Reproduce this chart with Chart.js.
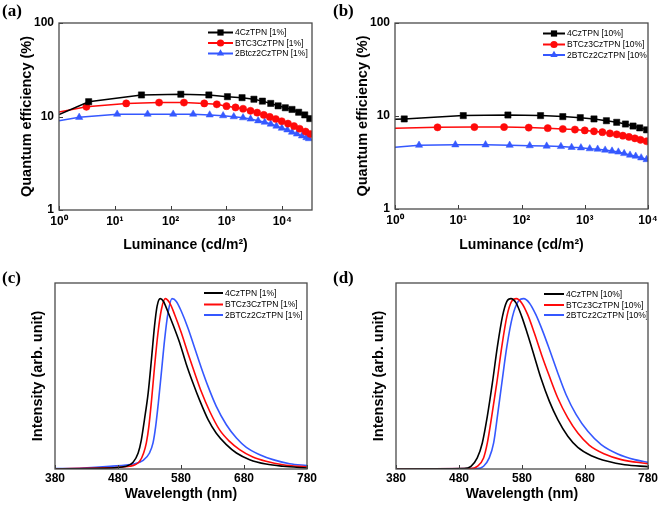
<!DOCTYPE html>
<html><head><meta charset="utf-8">
<script src="https://cdn.jsdelivr.net/npm/chart.js@4.4.0/dist/chart.umd.min.js"></script>
<style>
html,body{margin:0;padding:0;background:#fff;}
#wrap{position:relative;width:662px;height:506px;overflow:hidden;background:#fff;}
.pnl{position:absolute;width:331px;height:253px;}
.lbl{position:absolute;font-family:"Liberation Serif","DejaVu Serif",serif;font-weight:bold;font-size:17px;line-height:17px;color:#000;}
</style></head><body>
<div id="wrap">
<div class="pnl" style="left:0;top:0"><canvas id="ca" width="331" height="253"></canvas></div>
<div class="pnl" style="left:331px;top:0"><canvas id="cb" width="331" height="253"></canvas></div>
<div class="pnl" style="left:0;top:253px"><canvas id="cc" width="331" height="253"></canvas></div>
<div class="pnl" style="left:331px;top:253px"><canvas id="cd" width="331" height="253"></canvas></div>
<div class="lbl" style="left:2px;top:2px">(a)</div>
<div class="lbl" style="left:333px;top:2px">(b)</div>
<div class="lbl" style="left:2px;top:269px">(c)</div>
<div class="lbl" style="left:333px;top:269px">(d)</div>
</div>
<script>
// ---------- tick labels ----------
const lumTickValues = [1, 10, 100, 1000, 10000];
const lumTickLabels = ['10⁰', '10¹', '10²', '10³', '10⁴'];
const eqeTickValues = [1, 10, 100];
const eqeTickLabels = ['1', '10', '100'];
const wlTickValues = [380, 480, 580, 680, 780];
const wlTickLabels = ['380', '480', '580', '680', '780'];

// ---------- panel (a): EQE vs luminance, 1% ----------
const legendA = ['4CzTPN [1%]', 'BTC3CzTPN [1%]', '2Btcz2CzTPN [1%]'];
const lumA_4Cz = [1, 3.4, 30, 152, 483, 1040, 1900, 3100, 4400, 6200, 8400, 11300, 14900, 19600, 25200, 31000];
const eqeA_4Cz = [10.5, 14.4, 17.0, 17.3, 17.0, 16.3, 15.9, 15.3, 14.6, 13.8, 13.0, 12.4, 11.9, 11.1, 10.4, 9.5];
const lumA_BTCz = [1, 3.1, 16, 62, 173, 400, 670, 1000, 1450, 1980, 2690, 3540, 4650, 5950, 7630, 9750, 12600, 16200, 20400, 26100, 31800];
const eqeA_BTCz = [11.2, 12.7, 13.8, 14.1, 14.1, 13.8, 13.5, 12.9, 12.5, 12.1, 11.5, 11.0, 10.4, 9.9, 9.4, 8.9, 8.4, 7.9, 7.4, 6.9, 6.5];
const lumA_2BTCz = [1, 2.3, 11, 38.6, 111, 253, 500, 870, 1350, 1980, 2700, 3690, 4840, 6200, 7850, 9800, 12300, 14900, 18300, 22500, 27000, 30000];
const eqeA_2BTCz = [9.0, 9.8, 10.6, 10.6, 10.6, 10.6, 10.4, 10.2, 9.95, 9.7, 9.4, 9.0, 8.7, 8.3, 7.9, 7.5, 7.2, 6.8, 6.5, 6.2, 5.95, 5.8];

// ---------- panel (b): EQE vs luminance, 10% ----------
const legendB = ['4CzTPN [10%]', 'BTCz3CzTPN [10%]', '2BTCz2CzTPN [10%]'];
const lumB_4Cz = [1, 1.4, 12, 61, 200, 450, 850, 1400, 2200, 3200, 4400, 5800, 7400, 9500];
const eqeB_4Cz = [9.2, 9.3, 10.1, 10.25, 10.1, 9.85, 9.6, 9.3, 8.9, 8.55, 8.2, 7.8, 7.45, 7.1];
const lumB_BTCz = [1, 4.7, 18, 53, 130, 260, 450, 700, 1000, 1400, 1900, 2500, 3200, 4000, 5000, 6200, 7600, 9500];
const eqeB_BTCz = [7.4, 7.55, 7.6, 7.6, 7.5, 7.4, 7.25, 7.15, 7.0, 6.85, 6.7, 6.5, 6.35, 6.15, 5.95, 5.75, 5.55, 5.35];
const lumB_2BTCz = [1, 2.4, 9, 27, 65, 135, 250, 420, 620, 870, 1200, 1600, 2100, 2700, 3400, 4200, 5200, 6400, 7800, 9500];
const eqeB_2BTCz = [4.6, 4.85, 4.9, 4.9, 4.85, 4.8, 4.75, 4.7, 4.6, 4.55, 4.45, 4.4, 4.3, 4.2, 4.1, 3.95, 3.8, 3.7, 3.55, 3.4];

// ---------- panel (c): EL spectra, 1% ----------
const legendC = ['4CzTPN [1%]', 'BTCz3CzTPN [1%]', '2BTCz2CzTPN [1%]'];
const wlC_4Cz = [380, 451, 493, 504, 512, 517, 522, 528, 533, 538, 542, 547, 552, 559, 567, 578, 588, 599, 610, 623, 636, 652, 668, 689, 715, 742, 780];
const intC_4Cz = [0, 0.004, 0.016, 0.04, 0.094, 0.17, 0.29, 0.45, 0.64, 0.84, 0.955, 1.0, 0.985, 0.925, 0.85, 0.74, 0.62, 0.505, 0.40, 0.29, 0.21, 0.143, 0.094, 0.055, 0.029, 0.016, 0.006];
const wlC_BTCz = [380, 451, 498.5, 514.4, 520.7, 525, 529, 533.4, 538, 543.5, 548.8, 555, 562, 570, 580.5, 591, 601.7, 612, 625.5, 641, 657, 673, 694, 715, 742, 780];
const intC_BTCz = [0, 0.006, 0.016, 0.045, 0.094, 0.153, 0.25, 0.41, 0.60, 0.80, 0.935, 1.0, 0.975, 0.906, 0.80, 0.68, 0.564, 0.456, 0.339, 0.231, 0.162, 0.114, 0.070, 0.045, 0.025, 0.012];
const wlC_2BTCz = [380, 424, 467, 504, 520, 530, 535.6, 539.8, 544, 548.8, 554, 559.4, 565.7, 572.6, 580.5, 591, 601.7, 612.3, 622.9, 636, 652, 668, 683.7, 705, 726, 752.5, 780];
const intC_2BTCz = [0.002, 0.006, 0.016, 0.029, 0.051, 0.094, 0.153, 0.25, 0.387, 0.564, 0.76, 0.916, 1.0, 0.984, 0.926, 0.828, 0.71, 0.593, 0.485, 0.368, 0.26, 0.182, 0.127, 0.084, 0.055, 0.031, 0.02];

// ---------- panel (d): EL spectra, 10% ----------
const legendD = ['4CzTPN [10%]', 'BTCz3CzTPN [10%]', '2BTCz2CzTPN [10%]'];
const wlD_4Cz = [380, 488, 499, 509, 517, 525, 533, 541, 549, 556, 562.5, 570.5, 579.5, 589, 599.6, 610, 623.5, 636.8, 652.7, 668.6, 690, 716, 743, 780];
const intD_4Cz = [0, 0.002, 0.016, 0.065, 0.153, 0.31, 0.505, 0.72, 0.896, 0.984, 1.0, 0.975, 0.896, 0.789, 0.661, 0.534, 0.397, 0.29, 0.192, 0.127, 0.078, 0.045, 0.025, 0.014];
const wlD_BTCz = [380, 499, 509, 519, 525, 532, 540, 548, 556, 563.5, 571, 579.5, 589, 599.6, 611, 623.5, 636.8, 652.7, 668.6, 687, 711, 737.5, 780];
const intD_BTCz = [0, 0.002, 0.016, 0.065, 0.153, 0.31, 0.505, 0.72, 0.896, 0.984, 1.0, 0.975, 0.906, 0.798, 0.671, 0.544, 0.417, 0.30, 0.211, 0.139, 0.088, 0.055, 0.031];
const wlD_2BTCz = [380, 509, 519, 528, 535, 541, 548, 556, 565, 574, 582.6, 591.7, 602, 613, 624.6, 636.8, 650, 666, 684.5, 705.7, 732, 758.8, 780];
const intD_2BTCz = [0, 0.002, 0.016, 0.065, 0.153, 0.31, 0.505, 0.72, 0.896, 0.984, 1.0, 0.975, 0.906, 0.808, 0.691, 0.564, 0.436, 0.319, 0.221, 0.143, 0.088, 0.055, 0.039];

// ---------- styling ----------
const BLACK = '#000000', RED = '#ff0a0a', BLUE = '#3558ff';
const FONT = '"Liberation Sans", Arial, Helvetica, sans-serif';

function pts(xs, ys) { return xs.map((x, i) => ({ x: x, y: ys[i] })); }

function drawMarker(ctx, style, x, y, r, color) {
  ctx.fillStyle = color;
  ctx.beginPath();
  if (style === 'rect') {
    const s = r * Math.SQRT1_2;
    ctx.rect(x - s, y - s, 2 * s, 2 * s);
  } else if (style === 'circle') {
    ctx.arc(x, y, r, 0, Math.PI * 2);
  } else if (style === 'triangle') {
    let a = 0;
    ctx.moveTo(x + Math.sin(a) * r, y - Math.cos(a) * r);
    a += 2 * Math.PI / 3;
    ctx.lineTo(x + Math.sin(a) * r, y - Math.cos(a) * r);
    a += 2 * Math.PI / 3;
    ctx.lineTo(x + Math.sin(a) * r, y - Math.cos(a) * r);
    ctx.closePath();
  }
  ctx.fill();
}

const framePlugin = {
  id: 'frame',
  afterDatasetsDraw(chart, args, opts) {
    const ctx = chart.ctx, a = chart.chartArea;
    ctx.save();
    // inward tick marks
    ctx.strokeStyle = '#3a3a3a';
    ctx.lineWidth = 1;
    ctx.beginPath();
    const xs = chart.scales.x;
    xs.ticks.forEach(t => {
      const px = Math.round(xs.getPixelForValue(t.value)) + 0.5;
      ctx.moveTo(px, a.bottom); ctx.lineTo(px, a.bottom - 4);
    });
    if (opts.yTicks) {
      const ys = chart.scales.y;
      ys.ticks.forEach(t => {
        const py = Math.round(ys.getPixelForValue(t.value)) + 0.5;
        ctx.moveTo(a.left, py); ctx.lineTo(a.left + 4, py);
      });
    }
    ctx.stroke();
    // frame
    ctx.strokeStyle = '#4a4a4a';
    ctx.lineWidth = 1.3;
    ctx.strokeRect(a.left, a.top, a.right - a.left, a.bottom - a.top);
    // legend inside plot
    ctx.beginPath();
    ctx.rect(a.left, a.top, a.right - a.left - 1, a.bottom - a.top);
    ctx.clip();
    const lg = opts.legend;
    chart.data.datasets.forEach((ds, i) => {
      const y = a.top + lg.rows[i];
      const x0 = a.left + lg.x0, x1 = a.left + lg.x1;
      ctx.strokeStyle = ds.borderColor;
      ctx.lineWidth = 2;
      ctx.beginPath();
      ctx.moveTo(x0, y); ctx.lineTo(x1, y);
      ctx.stroke();
      if (lg.markers) drawMarker(ctx, ds.pointStyle, (x0 + x1) / 2, y, lg.r[i], ds.borderColor);
      ctx.fillStyle = '#000';
      ctx.font = '8.5px ' + FONT;
      ctx.textBaseline = 'middle';
      ctx.textAlign = 'left';
      ctx.fillText(ds.label, a.left + lg.tx, y + 0.5);
    });
    ctx.restore();
  }
};

function fixedTicks(values) {
  return function (scale) { scale.ticks = values.map(v => ({ value: v })); };
}

function makeEqeChart(id, cfg) {
  const mk = (label, xs, ys, color, style, r) => ({
    label: label, data: pts(xs, ys), borderColor: color, backgroundColor: color,
    pointBackgroundColor: color, pointBorderColor: color, pointBorderWidth: 0.5,
    pointStyle: style, pointRadius: c => (c.dataIndex === 0 ? 0 : r), borderWidth: 1.5,
    tension: 0, fill: false
  });
  return new Chart(document.getElementById(id), {
    type: 'line',
    data: { datasets: [
      mk(cfg.labels[0], cfg.sets[0][0], cfg.sets[0][1], BLACK, 'rect', 4.4),
      mk(cfg.labels[1], cfg.sets[1][0], cfg.sets[1][1], RED, 'circle', 3.6),
      mk(cfg.labels[2], cfg.sets[2][0], cfg.sets[2][1], BLUE, 'triangle', 4.2)
    ] },
    options: {
      responsive: false, animation: false, events: [],
      layout: { padding: cfg.padding },
      plugins: { legend: { display: false }, tooltip: { enabled: false },
        frame: { yTicks: true, legend: cfg.legend } },
      scales: {
        x: {
          type: 'logarithmic', min: 1, max: cfg.xmax,
          afterBuildTicks: fixedTicks(lumTickValues),
          afterFit: s => { s.height = cfg.xh; },
          grid: { display: false, drawTicks: false }, border: { display: false },
          ticks: { autoSkip: false, maxRotation: 0, padding: cfg.xtp, color: '#000',
            font: { family: FONT, size: 12, weight: 'bold' },
            callback: v => lumTickLabels[lumTickValues.indexOf(v)] },
          title: { display: true, text: 'Luminance (cd/m²)', color: '#000',
            font: { family: FONT, size: 14, weight: 'bold', lineHeight: 1 },
            padding: { top: 0, bottom: cfg.xtitlePad } }
        },
        y: {
          type: 'logarithmic', min: 1, max: 100,
          afterBuildTicks: fixedTicks(eqeTickValues),
          afterFit: s => { s.width = cfg.yw; },
          grid: { display: false, drawTicks: false }, border: { display: false },
          ticks: { autoSkip: false, padding: 5, color: '#000',
            font: { family: FONT, size: 12, weight: 'bold' },
            callback: v => eqeTickLabels[eqeTickValues.indexOf(v)] },
          title: { display: true, text: 'Quantum efficiency (%)', color: '#000',
            font: { family: FONT, size: 14.5, weight: 'bold', lineHeight: 1 },
            padding: { top: cfg.ytitlePad, bottom: 0 } }
        }
      }
    },
    plugins: [framePlugin]
  });
}

function makeSpecChart(id, cfg) {
  const mk = (label, xs, ys, color) => ({
    label: label, data: pts(xs, ys), borderColor: color, backgroundColor: color,
    pointRadius: 0, borderWidth: 1.6, cubicInterpolationMode: 'monotone', fill: false,
    pointStyle: 'line'
  });
  return new Chart(document.getElementById(id), {
    type: 'line',
    data: { datasets: [
      mk(cfg.labels[0], cfg.sets[0][0], cfg.sets[0][1], BLACK),
      mk(cfg.labels[1], cfg.sets[1][0], cfg.sets[1][1], RED),
      mk(cfg.labels[2], cfg.sets[2][0], cfg.sets[2][1], BLUE)
    ] },
    options: {
      responsive: false, animation: false, events: [],
      layout: { padding: cfg.padding },
      plugins: { legend: { display: false }, tooltip: { enabled: false },
        frame: { yTicks: false, legend: cfg.legend } },
      scales: {
        x: {
          type: 'linear', min: 380, max: 780,
          afterBuildTicks: fixedTicks(wlTickValues),
          afterFit: s => { s.height = cfg.xh; },
          grid: { display: false, drawTicks: false }, border: { display: false },
          ticks: { autoSkip: false, maxRotation: 0, padding: cfg.xtp, color: '#000',
            font: { family: FONT, size: 12, weight: 'bold' },
            callback: v => wlTickLabels[wlTickValues.indexOf(v)] },
          title: { display: true, text: 'Wavelength (nm)', color: '#000',
            font: { family: FONT, size: 14, weight: 'bold', lineHeight: 1 },
            padding: { top: 0, bottom: cfg.xtitlePad } }
        },
        y: {
          type: 'linear', min: 0, max: 1.092,
          afterFit: s => { s.width = cfg.yw; },
          grid: { display: false, drawTicks: false }, border: { display: false },
          ticks: { display: false },
          title: { display: true, text: 'Intensity (arb. unit)', color: '#000',
            font: { family: FONT, size: 14.5, weight: 'bold', lineHeight: 1 },
            padding: { top: cfg.ytitlePad, bottom: 0 } }
        }
      }
    },
    plugins: [framePlugin]
  });
}

makeEqeChart('ca', {
  labels: legendA,
  sets: [[lumA_4Cz, eqeA_4Cz], [lumA_BTCz, eqeA_BTCz], [lumA_2BTCz, eqeA_2BTCz]],
  xmax: 34000, padding: { left: 0, top: 23, right: 19, bottom: 0 },
  yw: 59, xh: 43, xtp: 4, xtitlePad: 0.5, ytitlePad: 19.7,
  legend: { x0: 149, x1: 174, tx: 176, rows: [9.5, 20, 30.5], markers: true, r: [4.4, 3.6, 4.2] }
});
makeEqeChart('cb', {
  labels: legendB,
  sets: [[lumB_4Cz, eqeB_4Cz], [lumB_BTCz, eqeB_BTCz], [lumB_2BTCz, eqeB_2BTCz]],
  xmax: 10000, padding: { left: 0, top: 23, right: 14, bottom: 0 },
  yw: 64, xh: 44, xtp: 4, xtitlePad: 0.5, ytitlePad: 24.4,
  legend: { x0: 148, x1: 170, tx: 172, rows: [10.5, 21.5, 32], markers: true, r: [4.4, 3.6, 4.2] }
});
makeSpecChart('cc', {
  labels: legendC,
  sets: [[wlC_4Cz, intC_4Cz], [wlC_BTCz, intC_BTCz], [wlC_2BTCz, intC_2BTCz]],
  padding: { left: 0, top: 30, right: 24, bottom: 0 },
  yw: 55, xh: 37, xtp: 2, xtitlePad: 5, ytitlePad: 31,
  legend: { x0: 149, x1: 168, tx: 170, rows: [10, 21.5, 32], markers: false }
});
makeSpecChart('cd', {
  labels: legendD,
  sets: [[wlD_4Cz, intD_4Cz], [wlD_BTCz, intD_BTCz], [wlD_2BTCz, intD_2BTCz]],
  padding: { left: 0, top: 30, right: 14, bottom: 0 },
  yw: 65, xh: 37, xtp: 2, xtitlePad: 5, ytitlePad: 40.4,
  legend: { x0: 148, x1: 168, tx: 170, rows: [11, 22, 32], markers: false }
});
</script>
</body></html>
